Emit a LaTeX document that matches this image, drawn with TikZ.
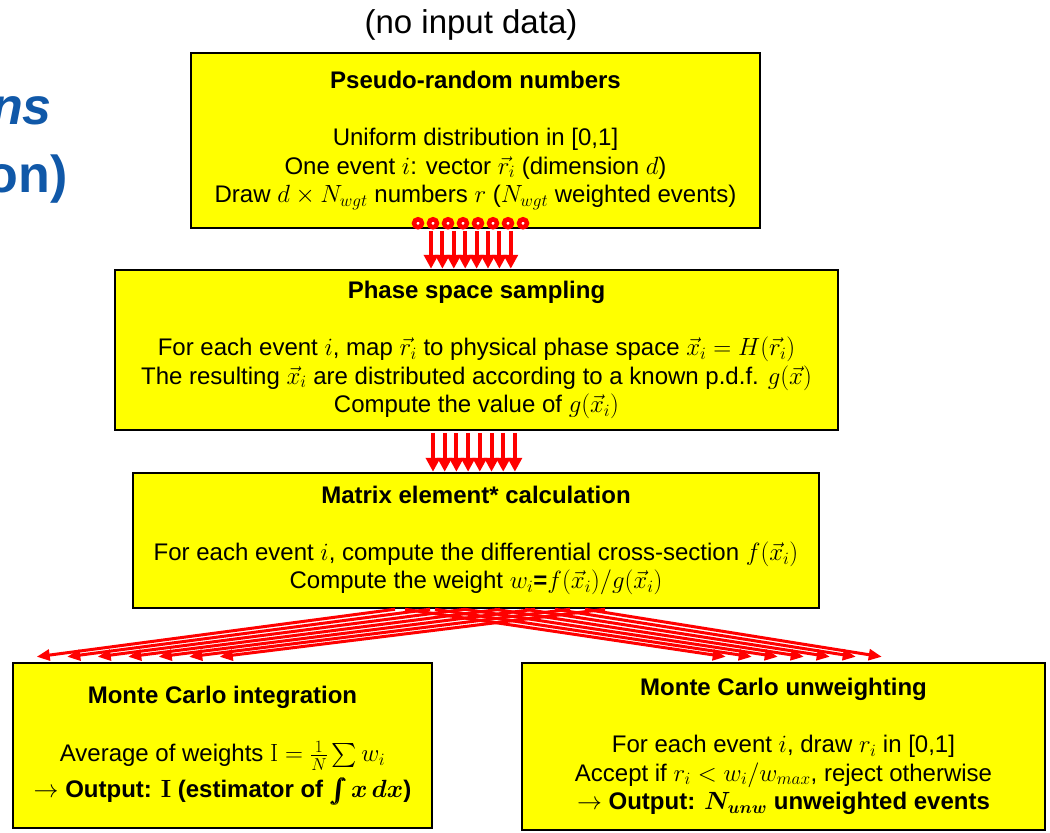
\documentclass[tikz,border=0pt]{standalone}
\usepackage{amsmath,amssymb,bm}
\usepackage[no-math]{fontspec}
\setmainfont{Liberation Sans}
\usepackage{tikz}
\usetikzlibrary{arrows.meta,calc}
\definecolor{slideblue}{RGB}{16,88,168}
\definecolor{boxyellow}{RGB}{255,255,0}

\begin{document}
\begin{tikzpicture}[x=1pt,y=-1pt,
  box/.style={draw=black,line width=2.5pt,fill=boxyellow,align=center,inner sep=0pt,font=\fontsize{24}{28.5}\selectfont},
  flow/.style={draw=red,line width=4pt,shorten <=2pt,-{Triangle[length=14pt,width=14pt]}},
  fan/.style={draw=red,line width=3pt,-{Triangle[length=13pt,width=11pt]}},
  ring/.style={draw=red,line width=4.5pt,fill=white}]
  \useasboundingbox (0,0) rectangle (1050,833); % 画像全体の範囲
  \node[font=\fontsize{33}{40}\selectfont] (nodata) at (471,25) {(no input data)}; % 上の注記
  \node[anchor=base east,inner sep=0pt,text=slideblue,font=\fontsize{52}{60}\selectfont\bfseries\itshape] (ttla) at (52,124) {ns}; % 切れたスライド見出し（1行目）
  \node[anchor=base east,inner sep=0pt,text=slideblue,font=\fontsize{52}{60}\selectfont\bfseries] (ttlb) at (68,192) {on)}; % 切れたスライド見出し（2行目）
  \node[box,minimum width=569,minimum height=175] (pseudo) at (475.5,140.5) {\textbf{Pseudo-random numbers}\\[28.5pt]
    Uniform distribution in [0,1]\\
    One event $i$: vector $\vec{r}_i$ (dimension $d$)\\
    Draw $d\times N_{wgt}$ numbers $r$ ($N_{wgt}$ weighted events)}; % 乱数の箱
  \node[box,minimum width=723,minimum height=160] (phase) at (476.5,350) {\textbf{Phase space sampling}\\[28.5pt]
    For each event $i$, map $\vec{r}_i$ to physical phase space $\vec{x}_i=H(\vec{r}_i)$\\
    The resulting $\vec{x}_i$ are distributed according to a known p.d.f. $g(\vec{x})$\\
    Compute the value of $g(\vec{x}_i)$}; % 位相空間の箱
  \node[box,minimum width=686,minimum height=135] (melem) at (476,540.5) {\textbf{Matrix element* calculation}\\[28.5pt]
    For each event $i$, compute the differential cross-section $f(\vec{x}_i)$\\
    Compute the weight $w_i$\textbf{=}$f(\vec{x}_i)/g(\vec{x}_i)$}; % 行列要素の箱
  \node[box,minimum width=419,minimum height=165] (mcint) at (222.5,745.5) {\textbf{Monte Carlo integration}\\[30pt]
    Average of weights $\mathrm{I}=\frac{1}{N}\sum w_i$\\[6pt]
    $\rightarrow$ \textbf{Output: $\mathbf{I}$ (estimator of $\bm{\int x\,dx}$)}}; % 積分の箱
  \node[box,minimum width=523,minimum height=167] (mcunw) at (783.5,746.5) {\textbf{Monte Carlo unweighting}\\[28.5pt]
    For each event $i$, draw $r_i$ in [0,1]\\
    Accept if $r_i<w_i/w_{max}$, reject otherwise\\
    $\rightarrow$ \textbf{Output: $\bm{N_{unw}}$ unweighted events}}; % 重みなし化の箱
  \foreach \k in {0,...,7}
    \draw[flow] ($(pseudo.south)+(-44.5+11.4*\k,0)$) -- ($(phase.north)+(-45.5+11.4*\k,0)$); % 乱数から位相空間へ
  \foreach \k in {0,...,7}
    \draw[ring] ($(pseudo.south)+(-57.5+15*\k,-6)$) circle (4pt); % 矢印の根元の丸
  \foreach \k in {0,...,7}
    \draw[flow] ($(phase.south)+(-43.5+11.7*\k,0)$) -- ($(melem.north)+(-43+11.7*\k,0)$); % 位相空間から行列要素へ
  \foreach \k in {0,...,6}
    \draw[fan] ($(melem.south)+(-81+35*\k,0)$) -- ($(mcint.north west)+(25+30.5*\k,-5)$); % 左下の積分へ
  \foreach \k in {0,...,6}
    \draw[fan] ($(melem.south)+(-71+30*\k,0)$) -- ($(mcunw.north west)+(205+26*\k,-5)$); % 右下の重みなし化へ
\end{tikzpicture}
\end{document}
